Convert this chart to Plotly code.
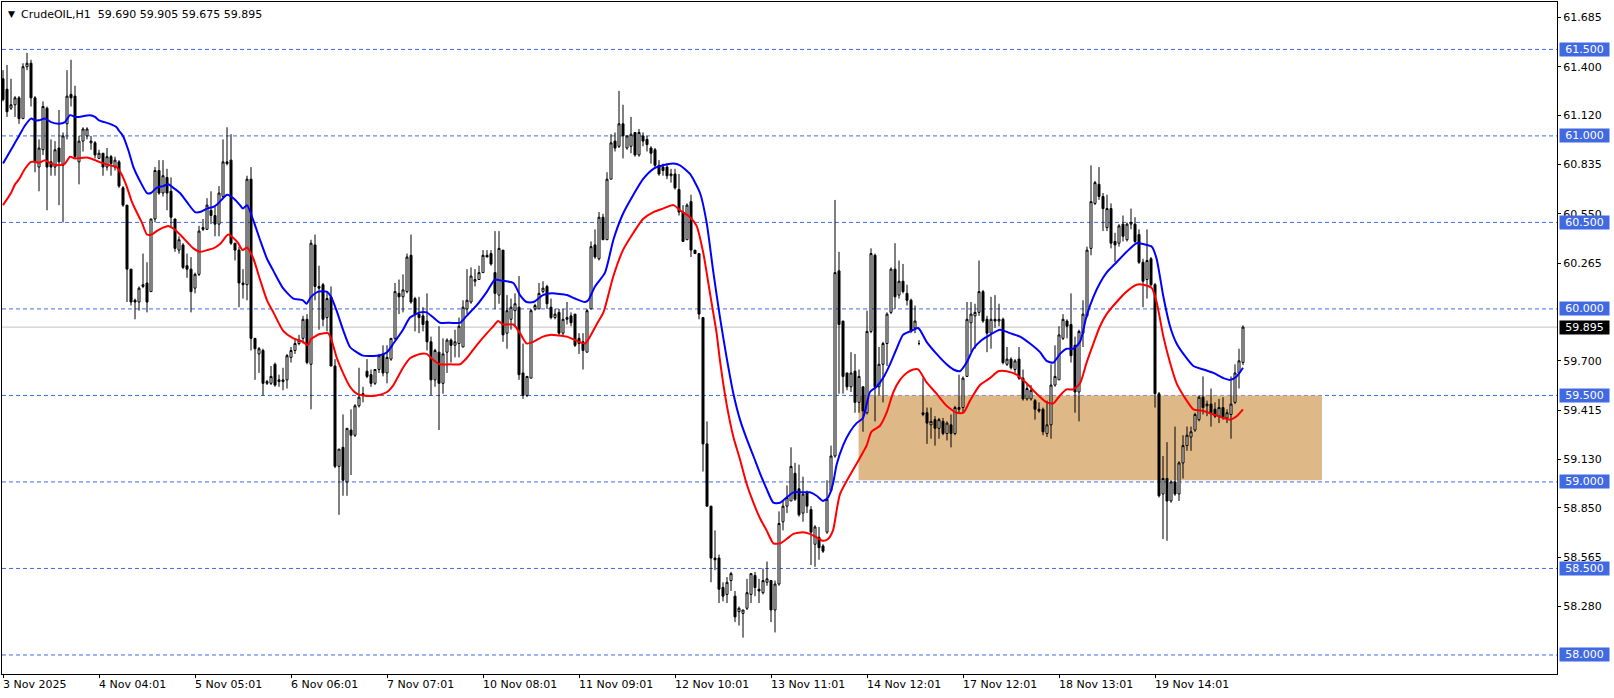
import plotly.graph_objects as go

# ---------------- data ----------------
open_ = [
    61.33, 61.27, 61.16, 61.18, 61.22, 61.10, 61.40, 61.42, 61.22, 60.82,
    60.92, 61.16, 60.85, 60.82, 60.93, 60.83, 61.07, 61.24, 61.23, 60.85,
    60.97, 61.00, 60.96, 60.96, 60.87, 60.90, 60.82, 60.88, 60.82, 60.85,
    60.70, 60.60, 60.23, 60.05, 60.04, 60.13, 60.15, 60.10, 60.52, 60.80,
    60.67, 60.76, 60.68, 60.52, 60.34, 60.37, 60.25, 60.23, 60.12, 60.20,
    60.46, 60.46, 60.57, 60.54, 60.49, 60.65, 60.85, 60.86, 60.38, 60.34,
    60.15, 60.14, 60.75, 59.83, 59.74, 59.76, 59.57, 59.57, 59.68, 59.59,
    59.58, 59.59, 59.72, 59.76, 59.80, 59.83, 59.94, 59.68, 60.37, 60.13,
    60.14, 59.95, 60.07, 59.67, 59.09, 59.20, 59.00, 59.30, 59.27, 59.44,
    59.50, 59.64, 59.62, 59.57, 59.65, 59.74, 59.63, 59.71, 59.83, 60.09,
    60.07, 60.10, 60.31, 60.06, 59.97, 59.96, 59.93, 59.81, 59.59, 59.75,
    59.57, 59.75, 59.82, 59.79, 59.80, 59.78, 60.00, 60.04, 60.16, 60.17,
    60.21, 60.31, 60.32, 60.21, 60.08, 60.34, 59.86, 59.94, 59.99, 60.01,
    59.63, 59.50, 59.60, 60.00, 60.00, 60.10, 60.13, 60.01, 59.95, 59.98,
    59.86, 59.94, 59.96, 59.97, 59.83, 59.81, 59.75, 60.00, 60.37, 60.29,
    60.53, 60.40, 60.75, 60.97, 60.94, 61.07, 60.93, 60.94, 61.02, 60.89,
    61.00, 60.98, 60.93, 60.92, 60.83, 60.82, 60.82, 60.77, 60.78, 60.69,
    60.56, 60.40, 60.62, 60.34, 60.32, 59.95, 59.22, 58.86, 58.56, 58.56,
    58.39, 58.35, 58.43, 58.34, 58.25, 58.24, 58.27, 58.35, 58.46, 58.38,
    58.36, 58.42, 58.43, 58.26, 58.41, 58.77, 58.86, 58.89, 59.05, 58.96,
    58.82, 58.94, 58.84, 58.64, 58.68, 58.63, 58.71, 58.95, 59.15, 60.22,
    59.93, 59.63, 59.55, 59.64, 59.46, 59.55, 59.40, 59.87, 60.31, 59.55,
    59.68, 59.80, 59.98, 60.23, 60.08, 60.16, 60.09, 60.05, 59.89, 59.80,
    59.39, 59.40, 59.33, 59.36, 59.31, 59.35, 59.28, 59.33, 59.28, 59.43,
    59.43, 59.61, 59.92, 59.96, 59.98, 60.10, 59.94, 59.86, 59.94, 59.93,
    59.94, 59.68, 59.71, 59.65, 59.71, 59.60, 59.48, 59.48, 59.47, 59.42,
    59.42, 59.28, 59.33, 59.56, 59.59, 59.83, 59.93, 59.91, 59.79, 59.52,
    59.86, 59.96, 60.35, 60.61, 60.72, 60.65, 60.47, 60.58, 60.39, 60.38,
    60.49, 60.40, 60.49, 60.49, 60.43, 60.27, 60.17, 60.29, 60.14, 59.51,
    58.93, 59.02, 58.89, 59.00, 58.93, 59.11, 59.21, 59.26, 59.30, 59.36,
    59.49, 59.44, 59.45, 59.42, 59.38, 59.43, 59.37, 59.39, 59.46, 59.63,
    59.690,
]
high = [
    61.38, 61.41, 61.33, 61.23, 61.23, 61.42, 61.48, 61.44, 61.23, 60.98,
    61.20, 61.17, 60.98, 60.97, 61.15, 61.02, 61.38, 61.44, 61.29, 61.00,
    61.05, 61.05, 61.00, 60.97, 60.92, 60.90, 60.93, 60.89, 60.88, 60.86,
    60.71, 60.60, 60.23, 60.06, 60.13, 60.32, 60.27, 60.52, 60.82, 60.86,
    60.86, 60.81, 60.76, 60.52, 60.42, 60.38, 60.32, 60.30, 60.21, 60.48,
    60.52, 60.64, 60.68, 60.60, 60.71, 60.98, 61.05, 61.01, 60.38, 60.36,
    60.23, 60.77, 60.82, 59.83, 59.78, 59.77, 59.59, 59.67, 59.69, 59.62,
    59.66, 59.74, 59.78, 59.83, 59.85, 59.96, 59.97, 60.40, 60.43, 60.25,
    60.15, 60.10, 60.13, 59.71, 59.19, 59.39, 59.31, 59.42, 59.45, 59.66,
    59.55, 59.71, 59.65, 59.65, 59.74, 59.79, 59.79, 59.83, 60.15, 60.17,
    60.20, 60.32, 60.43, 60.07, 60.07, 60.01, 60.09, 59.84, 59.77, 59.90,
    59.83, 59.83, 59.83, 59.88, 59.95, 60.05, 60.23, 60.24, 60.23, 60.25,
    60.34, 60.34, 60.34, 60.45, 60.45, 60.34, 60.08, 60.06, 60.09, 60.19,
    59.80, 59.61, 60.00, 60.03, 60.15, 60.16, 60.14, 60.06, 60.00, 60.00,
    60.00, 60.04, 59.98, 59.97, 59.86, 59.86, 60.00, 60.39, 60.46, 60.56,
    60.55, 60.79, 61.01, 61.02, 61.26, 61.18, 61.00, 61.11, 61.02, 61.04,
    61.02, 61.00, 60.94, 60.93, 60.86, 60.84, 60.84, 60.81, 60.81, 60.78,
    60.60, 60.61, 60.66, 60.34, 60.32, 59.95, 59.35, 58.86, 58.72, 58.58,
    58.42, 58.45, 58.48, 58.37, 58.28, 58.26, 58.44, 58.47, 58.48, 58.44,
    58.50, 58.54, 58.43, 58.43, 58.83, 58.89, 58.98, 59.20, 59.11, 59.10,
    59.03, 58.95, 58.86, 58.75, 58.74, 58.64, 59.01, 59.21, 60.63, 60.33,
    59.93, 59.63, 59.75, 59.74, 59.65, 59.55, 59.99, 60.35, 60.32, 59.78,
    59.81, 59.98, 60.24, 60.38, 60.28, 60.26, 60.14, 60.06, 60.02, 59.82,
    59.60, 59.43, 59.43, 59.38, 59.37, 59.37, 59.35, 59.39, 59.44, 59.62,
    59.61, 60.04, 60.04, 60.03, 60.28, 60.11, 59.96, 60.07, 60.08, 60.03,
    59.95, 59.78, 59.72, 59.71, 59.78, 59.65, 59.57, 59.56, 59.48, 59.46,
    59.43, 59.47, 59.68, 59.79, 59.90, 59.97, 59.94, 60.09, 59.84, 59.88,
    60.05, 60.36, 60.83, 60.74, 60.82, 60.67, 60.66, 60.61, 60.44, 60.49,
    60.54, 60.50, 60.58, 60.53, 60.46, 60.29, 60.46, 60.30, 60.15, 59.52,
    59.15, 59.23, 59.01, 59.32, 59.12, 59.27, 59.32, 59.32, 59.40, 59.50,
    59.61, 59.47, 59.54, 59.46, 59.48, 59.49, 59.42, 59.61, 59.68, 59.77,
    59.905,
]
low = [
    61.20, 61.11, 61.15, 61.11, 61.07, 61.10, 61.38, 61.17, 60.79, 60.68,
    60.89, 60.57, 60.77, 60.77, 60.60, 60.50, 60.98, 61.17, 60.87, 60.72,
    60.91, 60.98, 60.92, 60.87, 60.87, 60.77, 60.80, 60.77, 60.80, 60.70,
    60.59, 60.04, 60.02, 59.94, 59.99, 60.12, 59.98, 60.10, 60.50, 60.66,
    60.65, 60.57, 60.47, 60.33, 60.32, 60.23, 60.18, 59.98, 60.09, 60.19,
    60.45, 60.46, 60.49, 60.42, 60.42, 60.64, 60.83, 60.37, 60.28, 60.01,
    60.06, 60.05, 59.76, 59.59, 59.63, 59.50, 59.56, 59.56, 59.55, 59.55,
    59.53, 59.54, 59.69, 59.74, 59.79, 59.80, 59.68, 59.42, 60.05, 59.88,
    59.90, 59.87, 59.67, 59.08, 58.81, 58.92, 58.92, 59.04, 59.26, 59.43,
    59.46, 59.60, 59.55, 59.56, 59.63, 59.61, 59.57, 59.70, 59.82, 59.97,
    59.98, 60.09, 60.03, 59.87, 59.86, 59.87, 59.76, 59.50, 59.55, 59.30,
    59.51, 59.63, 59.69, 59.72, 59.72, 59.78, 59.97, 60.03, 60.13, 60.17,
    60.21, 60.30, 60.25, 60.00, 60.03, 59.81, 59.77, 59.88, 59.90, 59.59,
    59.48, 59.49, 59.60, 59.99, 60.00, 60.09, 60.00, 59.94, 59.94, 59.85,
    59.84, 59.91, 59.90, 59.78, 59.74, 59.65, 59.75, 60.00, 60.29, 60.28,
    60.40, 60.40, 60.75, 60.91, 60.93, 60.87, 60.92, 60.90, 60.88, 60.88,
    60.94, 60.91, 60.84, 60.81, 60.77, 60.77, 60.75, 60.73, 60.69, 60.54,
    60.39, 60.40, 60.30, 60.32, 59.94, 59.06, 58.86, 58.42, 58.49, 58.30,
    58.31, 58.30, 58.37, 58.19, 58.17, 58.10, 58.26, 58.30, 58.34, 58.30,
    58.35, 58.40, 58.19, 58.13, 58.40, 58.72, 58.82, 58.89, 58.89, 58.80,
    58.77, 58.82, 58.52, 58.51, 58.55, 58.59, 58.70, 58.94, 59.14, 59.51,
    59.51, 59.53, 59.52, 59.40, 59.40, 59.29, 59.39, 59.86, 59.35, 59.50,
    59.46, 59.67, 59.97, 60.00, 60.06, 60.09, 60.02, 59.86, 59.86, 59.79,
    59.38, 59.22, 59.25, 59.21, 59.25, 59.27, 59.24, 59.20, 59.27, 59.40,
    59.40, 59.61, 59.75, 59.77, 59.96, 59.92, 59.75, 59.77, 59.89, 59.90,
    59.68, 59.67, 59.65, 59.63, 59.59, 59.47, 59.47, 59.47, 59.36, 59.40,
    59.27, 59.26, 59.25, 59.55, 59.59, 59.82, 59.83, 59.69, 59.40, 59.35,
    59.78, 59.95, 60.31, 60.60, 60.63, 60.45, 60.45, 60.35, 60.27, 60.36,
    60.39, 60.39, 60.46, 60.38, 60.26, 60.01, 60.06, 60.13, 59.43, 58.91,
    58.67, 58.66, 58.88, 58.92, 58.89, 59.02, 59.18, 59.18, 59.29, 59.35,
    59.39, 59.38, 59.32, 59.37, 59.34, 59.36, 59.34, 59.25, 59.45, 59.54,
    59.675,
]
close = [
    61.21, 61.14, 61.18, 61.22, 61.10, 61.40, 61.42, 61.22, 60.85, 60.93,
    61.17, 60.82, 60.82, 60.92, 60.85, 61.00, 61.23, 61.22, 60.88, 60.97,
    61.04, 61.04, 60.97, 60.89, 60.90, 60.82, 60.88, 60.84, 60.86, 60.71,
    60.60, 60.23, 60.04, 60.04, 60.12, 60.14, 60.04, 60.52, 60.80, 60.67,
    60.77, 60.67, 60.53, 60.35, 60.40, 60.24, 60.23, 60.10, 60.20, 60.45,
    60.47, 60.60, 60.54, 60.49, 60.67, 60.85, 60.84, 60.38, 60.34, 60.15,
    60.14, 60.75, 59.83, 59.77, 59.77, 59.57, 59.58, 59.61, 59.56, 59.58,
    59.59, 59.73, 59.76, 59.80, 59.82, 59.94, 59.69, 60.38, 60.13, 60.12,
    59.94, 60.06, 59.67, 59.09, 59.19, 59.01, 59.31, 59.27, 59.44, 59.49,
    59.51, 59.61, 59.57, 59.65, 59.73, 59.63, 59.72, 59.83, 60.10, 60.07,
    60.11, 60.30, 60.04, 59.97, 59.95, 59.91, 59.81, 59.59, 59.76, 59.57,
    59.74, 59.82, 59.79, 59.81, 59.90, 60.01, 60.05, 60.19, 60.17, 60.21,
    60.31, 60.30, 60.26, 60.09, 60.35, 59.85, 59.99, 60.01, 60.03, 59.62,
    59.50, 59.61, 59.99, 60.02, 60.09, 60.12, 60.03, 59.95, 59.97, 59.86,
    59.94, 59.95, 59.92, 59.79, 59.80, 59.76, 59.99, 60.36, 60.30, 60.53,
    60.40, 60.75, 60.96, 60.93, 61.07, 61.00, 61.00, 61.01, 60.89, 61.02,
    60.97, 60.95, 60.90, 60.83, 60.78, 60.80, 60.77, 60.78, 60.70, 60.56,
    60.39, 60.60, 60.34, 60.32, 59.97, 59.22, 58.86, 58.56, 58.55, 58.38,
    58.34, 58.42, 58.47, 58.22, 58.27, 58.26, 58.36, 58.47, 58.39, 58.37,
    58.43, 58.44, 58.26, 58.41, 58.76, 58.86, 58.91, 59.09, 58.90, 58.81,
    58.93, 58.86, 58.71, 58.74, 58.62, 58.60, 58.90, 59.15, 60.21, 59.91,
    59.61, 59.55, 59.63, 59.46, 59.61, 59.41, 59.87, 60.32, 59.55, 59.68,
    59.80, 59.97, 60.23, 60.07, 60.16, 60.10, 60.05, 59.87, 59.93, 59.80,
    59.40, 59.34, 59.35, 59.31, 59.36, 59.28, 59.34, 59.28, 59.43, 59.42,
    59.60, 59.94, 59.97, 59.98, 60.10, 59.93, 59.86, 59.94, 59.93, 59.94,
    59.69, 59.71, 59.66, 59.70, 59.60, 59.48, 59.54, 59.53, 59.42, 59.41,
    59.29, 59.33, 59.56, 59.61, 59.85, 59.94, 59.90, 59.73, 59.52, 59.87,
    59.97, 60.34, 60.62, 60.73, 60.65, 60.58, 60.58, 60.38, 60.37, 60.48,
    60.42, 60.49, 60.50, 60.39, 60.27, 60.16, 60.28, 60.14, 59.51, 58.92,
    59.02, 58.89, 59.00, 58.93, 59.11, 59.21, 59.27, 59.29, 59.39, 59.49,
    59.43, 59.45, 59.40, 59.38, 59.43, 59.37, 59.40, 59.45, 59.63, 59.70,
    59.895,
]
bar_index = list(range(len(close)))

# moving-average lines (bar position, price)
blue_bar = [
    0, 2, 3, 4, 5.5, 7, 8, 9, 10.5, 12,
    14, 15.5, 16.75, 18, 19, 21.75, 23, 24, 26.75, 28.4,
    29, 30, 31.3, 32.6, 34, 36, 37, 38.4, 40, 41.3,
    42.6, 44.25, 45.9, 48, 49.25, 51, 52.6, 53.8, 55, 56,
    57.6, 59.25, 60, 61, 62.6, 64.25, 66, 67.6, 70, 72.6,
    75, 75.9, 77, 78.8, 80.9, 82, 83.4, 85, 86.75, 88.4,
    90, 93.4, 96, 97.6, 100, 101.75, 104.25, 105.9, 107.6, 109.25,
    111.75, 114.25, 115.9, 118.4, 121, 123, 124.25, 127.6, 129.25, 130.9,
    132.6, 135, 137.2, 141, 143, 145.5, 146.3, 148, 150.5, 152.6,
    155, 157.6, 160, 162.6, 165, 167.6, 169.25, 171.75, 174.25, 175.9,
    177.6, 179.25, 180.9, 182.6, 184.25, 185.9, 187.6, 189.25, 190.9, 192.6,
    194.25, 195.9, 197.6, 200, 201.75, 203.4, 205, 206.25, 207.5, 208.4,
    210, 211.75, 213.4, 215, 216.75, 218.4, 220, 221.75, 223.4, 225,
    226.75, 228.8, 230.9, 233.4, 235.9, 237.6, 239.25, 240.9, 242.6, 244.7,
    246.75, 249.25, 251.75, 254.25, 256.75, 259.25, 260.9, 262.6, 264.25, 265.9,
    267.6, 269.25, 270.9, 272.6, 274.25, 275.9, 278.4, 280.9, 283.4, 285.1,
    287.2, 288.4, 290.1, 291.75, 293.4, 295.1, 297.6, 300.1, 302.6, 305.1,
    306.75, 308.4, 310,
]
blue_val = [
    60.84, 60.92, 60.96, 61.00, 61.06, 61.10, 61.09, 61.09, 61.10, 61.08,
    61.07, 61.08, 61.12, 61.11, 61.11, 61.12, 61.11, 61.09, 61.07, 61.05,
    61.03, 61.00, 60.92, 60.82, 60.75, 60.67, 60.67, 60.70, 60.71, 60.72,
    60.70, 60.67, 60.62, 60.56, 60.56, 60.58, 60.59, 60.61, 60.64, 60.66,
    60.64, 60.60, 60.58, 60.60, 60.51, 60.40, 60.29, 60.22, 60.12, 60.06,
    60.05, 60.03, 60.07, 60.10, 60.10, 60.07, 59.99, 59.88, 59.78, 59.75,
    59.73, 59.73, 59.75, 59.80, 59.88, 59.95, 59.98, 59.98, 59.95, 59.92,
    59.92, 59.92, 59.96, 60.02, 60.10, 60.17, 60.165, 60.15, 60.08, 60.04,
    60.04, 60.08, 60.09, 60.08, 60.06, 60.04, 60.05, 60.13, 60.21, 60.40,
    60.55, 60.66, 60.75, 60.81, 60.83, 60.84, 60.83, 60.78, 60.67, 60.50,
    60.21, 59.95, 59.72, 59.51, 59.36, 59.25, 59.15, 59.05, 58.96, 58.88,
    58.88, 58.91, 58.94, 58.94, 58.94, 58.92, 58.89, 58.91, 58.99, 59.10,
    59.21, 59.29, 59.34, 59.37, 59.52, 59.55, 59.60, 59.68, 59.77, 59.85,
    59.87, 59.89, 59.81, 59.74, 59.68, 59.65, 59.64, 59.69, 59.77, 59.82,
    59.85, 59.88, 59.86, 59.84, 59.80, 59.75, 59.70, 59.69, 59.74, 59.77,
    59.77, 59.81, 59.96, 60.07, 60.15, 60.21, 60.27, 60.33, 60.38, 60.375,
    60.36, 60.29, 60.07, 59.90, 59.80, 59.74, 59.67, 59.65, 59.63, 59.60,
    59.59, 59.61, 59.66,
]
red_bar = [
    0, 2, 3, 4, 5.5, 7, 8, 9, 10.5, 12,
    14, 15.5, 16.75, 18, 21, 23, 24, 26.75, 28.4, 29.6,
    30.9, 32.2, 33.4, 34.7, 36, 37.2, 38.4, 40, 41.3, 42.6,
    44.25, 45.9, 47.6, 49.25, 51, 52.6, 54.25, 56.3, 57.6, 58.8,
    59.9, 61, 62.6, 64.25, 66, 67.6, 70, 72.6, 75, 76.2,
    77, 79.2, 81.25, 82, 83.4, 85, 86.75, 88.4, 90, 93.4,
    96, 97.6, 100, 101.75, 104.25, 105.9, 107.6, 109.25, 111.75, 114.25,
    115.9, 118.4, 121, 122.6, 123.8, 125, 127.6, 129.25, 130.9, 132.6,
    135, 136.75, 141, 143, 145.5, 146.75, 148.4, 150.1, 152.6, 155,
    157.6, 160, 162.6, 165, 167.6, 169.25, 171.75, 173.4, 175.1, 176.75,
    178.4, 179.25, 180.9, 182.6, 184.25, 185.9, 187.6, 189.25, 190.9, 192.6,
    194.25, 195.9, 197.6, 200, 201.75, 203.4, 205, 206.25, 207.5, 209.25,
    214, 215.9, 217.1, 219.25, 220.9, 222.6, 224.25, 225.9, 227.6, 228.8,
    230.9, 233.4, 235.9, 238.4, 240.1, 241.75, 244.25, 246.75, 248.8, 250.9,
    253.4, 255.9, 258.4, 260.9, 262.6, 264.25, 265.9, 267.6, 269.25, 270.9,
    272.6, 274.25, 275.9, 278.4, 280.9, 283.4, 285.1, 287.2, 288.4, 290.1,
    291.75, 293.4, 295.1, 297.6, 300.1, 302.6, 305.1, 306.75, 308.4, 310,
]
red_val = [
    60.60, 60.67, 60.72, 60.75, 60.81, 60.85, 60.85, 60.845, 60.86, 60.84,
    60.83, 60.84, 60.88, 60.87, 60.875, 60.86, 60.85, 60.83, 60.82, 60.78,
    60.71, 60.62, 60.56, 60.50, 60.43, 60.43, 60.45, 60.47, 60.48, 60.465,
    60.43, 60.39, 60.35, 60.33, 60.34, 60.35, 60.375, 60.43, 60.41, 60.38,
    60.34, 60.355, 60.29, 60.17, 60.05, 59.98, 59.875, 59.83, 59.81, 59.79,
    59.825, 59.855, 59.86, 59.83, 59.72, 59.63, 59.55, 59.51, 59.50, 59.50,
    59.52, 59.56, 59.66, 59.715, 59.74, 59.74, 59.705, 59.68, 59.68, 59.68,
    59.715, 59.79, 59.86, 59.90, 59.93, 59.91, 59.91, 59.86, 59.80, 59.81,
    59.84, 59.85, 59.84, 59.82, 59.80, 59.84, 59.91, 59.98, 60.19, 60.34,
    60.44, 60.52, 60.56, 60.58, 60.60, 60.57, 60.53, 60.48, 60.32, 60.09,
    59.86, 59.70, 59.45, 59.26, 59.13, 58.99, 58.88, 58.79, 58.72, 58.645,
    58.645, 58.67, 58.70, 58.71, 58.70, 58.68, 58.66, 58.67, 58.72, 58.93,
    59.13, 59.21, 59.29, 59.325, 59.40, 59.52, 59.59, 59.63, 59.65, 59.65,
    59.575, 59.51, 59.44, 59.40, 59.40, 59.47, 59.56, 59.60, 59.64, 59.64,
    59.62, 59.57, 59.51, 59.46, 59.454, 59.50, 59.535, 59.535, 59.57, 59.69,
    59.80, 59.90, 59.97, 60.04, 60.10, 60.14, 60.14, 60.12, 60.04, 59.84,
    59.69, 59.57, 59.50, 59.42, 59.41, 59.39, 59.37, 59.36, 59.38, 59.42,
]

tick_bars = [0, 24, 48, 72, 96, 120, 144, 168, 192, 216, 240, 264, 288]
tick_labels = ["3 Nov 2025", "4 Nov 04:01", "5 Nov 05:01", "6 Nov 06:01",
               "7 Nov 07:01", "10 Nov 08:01", "11 Nov 09:01", "12 Nov 10:01",
               "13 Nov 11:01", "14 Nov 12:01", "17 Nov 12:01", "18 Nov 13:01",
               "19 Nov 14:01"]
price_ticks = [61.685, 61.400, 61.120, 60.835, 60.550, 60.265,
               59.700, 59.415, 59.130, 58.850, 58.565, 58.280]
levels = [61.5, 61.0, 60.5, 60.0, 59.5, 59.0, 58.5, 58.0]
current_price = 59.895
zone_bars = [213.9, 329.75]
zone_prices = [59.01, 59.5]
header_text = "CrudeOIL,H1\u00a0\u00a059.690 59.905 59.675 59.895"

# ---------------- style ----------------
FONT = "DejaVu Sans"
LEVEL_COLOR = "#4169E1"

fig = go.Figure()
fig.add_trace(go.Candlestick(
    x=bar_index, open=open_, high=high, low=low, close=close,
    increasing=dict(line=dict(color="black", width=1), fillcolor="white"),
    decreasing=dict(line=dict(color="black", width=1), fillcolor="black"),
    whiskerwidth=0, hoverinfo="skip", showlegend=False,
))
fig.add_trace(go.Scatter(x=blue_bar, y=blue_val, mode="lines",
                         line=dict(color="#0000FF", width=2, shape="spline", smoothing=0.6),
                         hoverinfo="skip", showlegend=False))
fig.add_trace(go.Scatter(x=red_bar, y=red_val, mode="lines",
                         line=dict(color="#FF0000", width=2, shape="spline", smoothing=0.6),
                         hoverinfo="skip", showlegend=False))

shapes = [dict(type="rect", xref="x", yref="y", x0=zone_bars[0], x1=zone_bars[1],
               y0=zone_prices[0], y1=zone_prices[1], fillcolor="#DEB887",
               line=dict(width=0), layer="below")]
for lv in levels:
    shapes.append(dict(type="line", xref="paper", yref="y", x0=0, x1=1, y0=lv, y1=lv,
                       line=dict(color=LEVEL_COLOR, width=1, dash="4px,3px"), layer="below"))
shapes.append(dict(type="line", xref="paper", yref="y", x0=0, x1=1,
                   y0=current_price, y1=current_price,
                   line=dict(color="#C0C0C0", width=1), layer="below"))

annotations = []
for lv in levels:
    annotations.append(dict(xref="paper", yref="y", x=1, y=lv, xanchor="left", yanchor="middle",
                            xshift=2, text=f"{lv:.3f}", showarrow=False, align="center",
                            width=47, height=11, borderpad=1, bgcolor=LEVEL_COLOR,
                            font=dict(family=FONT, size=11, color="white")))
annotations.append(dict(xref="paper", yref="y", x=1, y=current_price, xanchor="left",
                        yanchor="middle", xshift=2, text=f"{current_price:.3f}",
                        showarrow=False, align="center", width=47, height=11, borderpad=1,
                        bgcolor="black", font=dict(family=FONT, size=11, color="white")))
for tb, tl in zip(tick_bars, tick_labels):
    annotations.append(dict(xref="x", yref="paper", x=tb, y=0, xanchor="left", yanchor="top",
                            xshift=-2, yshift=-2, text=tl, showarrow=False,
                            font=dict(family=FONT, size=11, color="black")))
annotations.append(dict(xref="paper", yref="paper", x=0, y=1, xanchor="left", yanchor="top",
                        xshift=4, yshift=-5, text="\u25bc", showarrow=False,
                        font=dict(family=FONT, size=9, color="black")))
annotations.append(dict(xref="paper", yref="paper", x=0, y=1, xanchor="left", yanchor="top",
                        xshift=17, yshift=-4, text=header_text, showarrow=False,
                        font=dict(family=FONT, size=11, color="black")))

fig.update_layout(
    width=1614, height=698, autosize=False,
    margin=dict(l=2, r=57, t=2, b=24, pad=0, autoexpand=False),
    paper_bgcolor="white", plot_bgcolor="white",
    boxgap=0.5, boxgroupgap=0, showlegend=False,
    shapes=shapes, annotations=annotations,
    font=dict(family=FONT, size=11, color="black"),
    xaxis=dict(range=[-0.25, 388.5], showgrid=False, zeroline=False, automargin=False,
               showline=True, linecolor="black", linewidth=1, mirror=True,
               ticks="outside", ticklen=3, tickcolor="black",
               tickvals=tick_bars, ticktext=[""] * len(tick_bars),
               rangeslider=dict(visible=False), fixedrange=True),
    yaxis=dict(side="right", range=[57.89, 61.774], showgrid=False, zeroline=False,
               automargin=False,
               showline=True, linecolor="black", linewidth=1, mirror=True,
               ticks="outside", ticklen=3, tickcolor="black",
               tickvals=price_ticks, ticktext=[f"{v:.3f}" for v in price_ticks],
               tickfont=dict(family=FONT, size=11, color="black"), fixedrange=True),
)

fig.write_html("out.html",
               config={"displayModeBar": False, "staticPlot": True},
               post_script="document.body.style.margin='0';document.body.style.overflow='hidden';")
